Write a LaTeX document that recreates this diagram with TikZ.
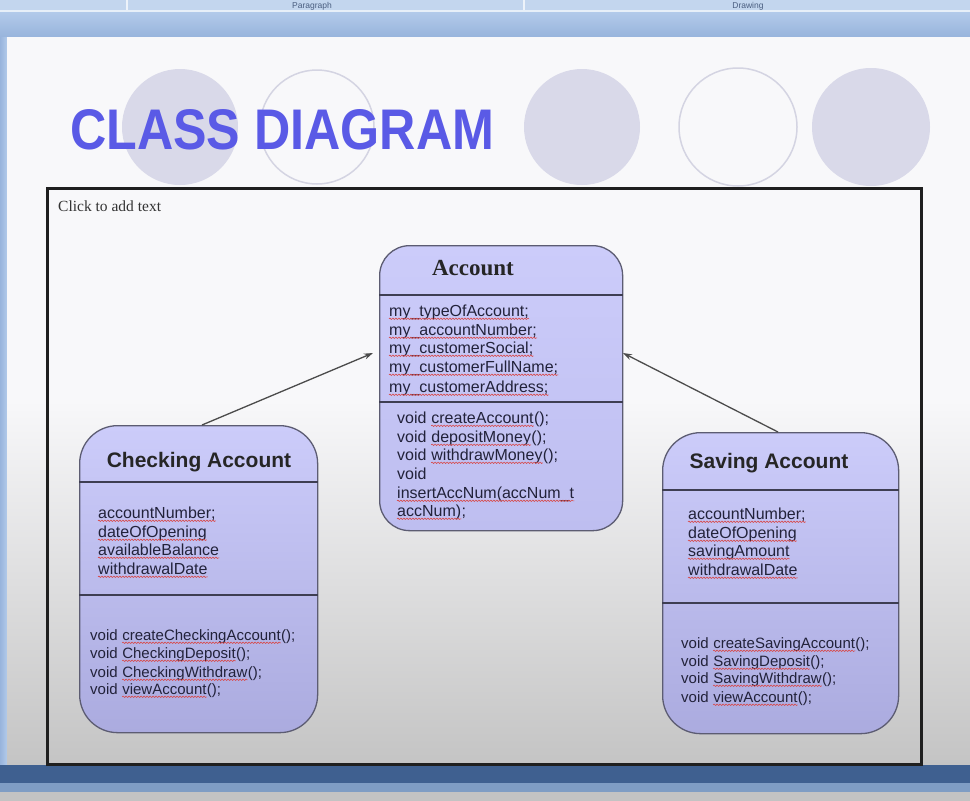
\documentclass[tikz,border=0pt]{standalone}
\usepackage{fontspec}
\setmainfont{Liberation Serif}
\setsansfont{Liberation Sans}
\usetikzlibrary{arrows.meta,decorations.pathmorphing}
\definecolor{titleblue}{HTML}{5A5AE6}
\definecolor{circfill}{HTML}{D9D9E9}
\definecolor{circline}{HTML}{D4D4E2}
\definecolor{boxtop}{HTML}{CCCCFA}
\definecolor{boxbot}{HTML}{ABABDF}
\definecolor{acctop}{HTML}{CCCCFA}
\definecolor{accbot}{HTML}{BEBEF0}
\definecolor{boxline}{HTML}{5C5C72}
\definecolor{divline}{HTML}{3E3E52}
\definecolor{sq}{HTML}{D84848}
\definecolor{txt}{HTML}{22223A}
\definecolor{slidetop}{HTML}{F8F8FA}
\definecolor{slidebot}{HTML}{C4C4C4}
\definecolor{ribbon}{HTML}{C3D6EE}
\definecolor{ribtxt}{HTML}{4A5E80}
\definecolor{bandtop}{HTML}{B2CAEA}
\definecolor{bandbot}{HTML}{98B4DC}
\definecolor{darkband}{HTML}{3F6090}
\definecolor{midband}{HTML}{7F9DC4}
\definecolor{bottomgray}{HTML}{C3C3C3}
\tikzset{
  classbox/.style={draw=boxline, line width=1.3pt, anchor=north west, inner sep=0pt},
  divider/.style={draw=divline, line width=1.4pt},
  attr/.style={anchor=base west, inner sep=0pt, text=txt, font=\sffamily\fontsize{16}{19}\selectfont},
  meth/.style={anchor=base west, inner sep=0pt, text=txt, font=\sffamily\fontsize{15}{18}\selectfont},
  accmeth/.style={anchor=base west, inner sep=0pt, text=txt, font=\sffamily\fontsize{16}{19}\selectfont},
  ctitle/.style={anchor=base, inner sep=0pt, text=black!85, font=\sffamily\bfseries\fontsize{21}{25}\selectfont},
  ribbontext/.style={anchor=base, inner sep=0pt, text=ribtxt, font=\sffamily\fontsize{8.5}{10}\selectfont},
  inh/.style={draw=black!70, line width=1.3pt, -{Stealth[length=9pt,width=6pt]}},
  fcirc/.style={fill=circfill, draw=none},
  ocirc/.style={draw=circline, line width=1.5pt, fill=none},
  wave/.style={draw=sq, line width=0.6pt, decorate, decoration={snake, amplitude=0.7pt, segment length=3pt}}
}
% underlined line: style, name, position, text
\newcommand\wline[4]{%
  \node[#1] (#2) at (#3) {#4};
  \draw[wave] ([yshift=-2.8pt]#2.base west) -- ([yshift=-2.8pt]#2.base east);}
% method line: style, name, position, method name, space width
\newcommand\wmeth[5]{%
  \node[#1] (#2a) at (#3) {void};
  \node[#1] (#2b) at ([xshift=#5]#2a.base east) {#4};
  \node[#1] (#2c) at (#2b.base east) {();};
  \draw[wave] ([yshift=-2.8pt]#2b.base west) -- ([yshift=-2.8pt]#2b.base east);}
\begin{document}
\begin{tikzpicture}[x=1pt,y=-1pt]
\useasboundingbox (0,0) rectangle (970,801);
% window chrome
\fill[ribbon] (0,0) rectangle (970,10);
\node[ribbontext] (para) at (312,8) {Paragraph};
\node[ribbontext] (drw) at (748,8) {Drawing};
\draw[white!70!ribbon, line width=2pt] (127,0) -- (127,10);
\draw[white!70!ribbon, line width=2pt] (524,0) -- (524,10);
\fill[white!60!ribbon] (0,10) rectangle (970,12);
\shade[top color=bandtop, bottom color=bandbot] (0,12) rectangle (970,37);
\shade[left color=bandbot, right color=bandtop] (0,37) rectangle (7,765);
% slide
\fill[slidetop] (7,37) rectangle (970,400);
\shade[top color=slidetop, bottom color=slidebot] (7,400) rectangle (970,765);
\fill[darkband] (0,765) rectangle (970,783);
\fill[midband] (0,783) rectangle (970,792);
\fill[bottomgray] (0,792) rectangle (970,801);
% decorative circles
\fill[fcirc] (180,127) circle[radius=58];
\draw[ocirc] (317,127) circle[radius=57];
\fill[fcirc] (582,127) circle[radius=58];
\draw[ocirc] (738,127) circle[radius=59];
\fill[fcirc] (871,127) circle[radius=59];
% title
\node[anchor=south west, inner sep=0pt, text=titleblue] (title) at (70,150) {\resizebox{424pt}{40pt}{\sffamily\bfseries CLASS DIAGRAM}};
% frame
\draw[black!88, line width=3pt] (47,188) rectangle (921,764);
\node[anchor=base west, inner sep=0pt, text=black!80, font=\rmfamily\fontsize{15.5}{18}\selectfont] (click) at (58,211) {Click to add text};
% class boxes
\node[classbox, rounded corners=30pt, top color=acctop, bottom color=accbot, minimum width=243pt, minimum height=285pt] (acc) at (379,245) {};
\node[classbox, rounded corners=38pt, top color=boxtop, bottom color=boxbot, minimum width=238pt, minimum height=307pt] (chk) at (79,425) {};
\node[classbox, rounded corners=38pt, top color=boxtop, bottom color=boxbot, minimum width=236pt, minimum height=301pt] (sav) at (662,432) {};
% dividers
\draw[divider] (acc.west |- 0,295) -- (acc.east |- 0,295);
\draw[divider] (acc.west |- 0,402) -- (acc.east |- 0,402);
\draw[divider] (chk.west |- 0,482) -- (chk.east |- 0,482);
\draw[divider] (chk.west |- 0,595) -- (chk.east |- 0,595);
\draw[divider] (sav.west |- 0,490) -- (sav.east |- 0,490);
\draw[divider] (sav.west |- 0,603) -- (sav.east |- 0,603);
% Account
\node[anchor=base, inner sep=0pt, text=black!85, font=\rmfamily\bfseries\fontsize{23}{27}\selectfont] (accT) at (473,275) {Account};
\wline{attr}{a1}{389,316}{my\_typeOfAccount;}
\wline{attr}{a2}{389,335}{my\_accountNumber;}
\wline{attr}{a3}{389,353}{my\_customerSocial;}
\wline{attr}{a4}{389,372}{my\_customerFullName;}
\wline{attr}{a5}{389,392}{my\_customerAddress;}
\wmeth{accmeth}{am1}{397,423}{createAccount}{4.45pt}
\wmeth{accmeth}{am2}{397,442}{depositMoney}{4.45pt}
\wmeth{accmeth}{am3}{397,460}{withdrawMoney}{4.45pt}
\node[accmeth] (am4) at (397,479) {void};
\wline{accmeth}{am5}{397,498}{insertAccNum(accNum\_t}
\wline{accmeth}{am6}{397,516}{accNum)}
\node[accmeth] (am6s) at (am6.base east) {;};
% Checking Account
\node[ctitle] (chkT) at (199,467) {Checking Account};
\wline{attr}{c1}{98,518}{accountNumber;}
\wline{attr}{c2}{98,537}{dateOfOpening}
\wline{attr}{c3}{98,555}{availableBalance}
\wline{attr}{c4}{98,574}{withdrawalDate}
\wmeth{meth}{cm1}{90,640}{createCheckingAccount}{4.2pt}
\wmeth{meth}{cm2}{90,658}{CheckingDeposit}{4.2pt}
\wmeth{meth}{cm3}{90,677}{CheckingWithdraw}{4.2pt}
\wmeth{meth}{cm4}{90,694}{viewAccount}{4.2pt}
% Saving Account
\node[ctitle] (savT) at (769,468) {Saving Account};
\wline{attr}{s1}{688,519}{accountNumber;}
\wline{attr}{s2}{688,538}{dateOfOpening}
\wline{attr}{s3}{688,556}{savingAmount}
\wline{attr}{s4}{688,575}{withdrawalDate}
\wmeth{meth}{sm1}{681,648}{createSavingAccount}{4.2pt}
\wmeth{meth}{sm2}{681,666}{SavingDeposit}{4.2pt}
\wmeth{meth}{sm3}{681,683}{SavingWithdraw}{4.2pt}
\wmeth{meth}{sm4}{681,702}{viewAccount}{4.2pt}
% inheritance arrows
\coordinate (accL) at (373,353);
\coordinate (accR) at (623,353);
\coordinate (chkTop) at (202,425);
\coordinate (savTop) at (778,432);
\draw[inh] (chkTop) -- (accL);
\draw[inh] (savTop) -- (accR);
\end{tikzpicture}
\end{document}
